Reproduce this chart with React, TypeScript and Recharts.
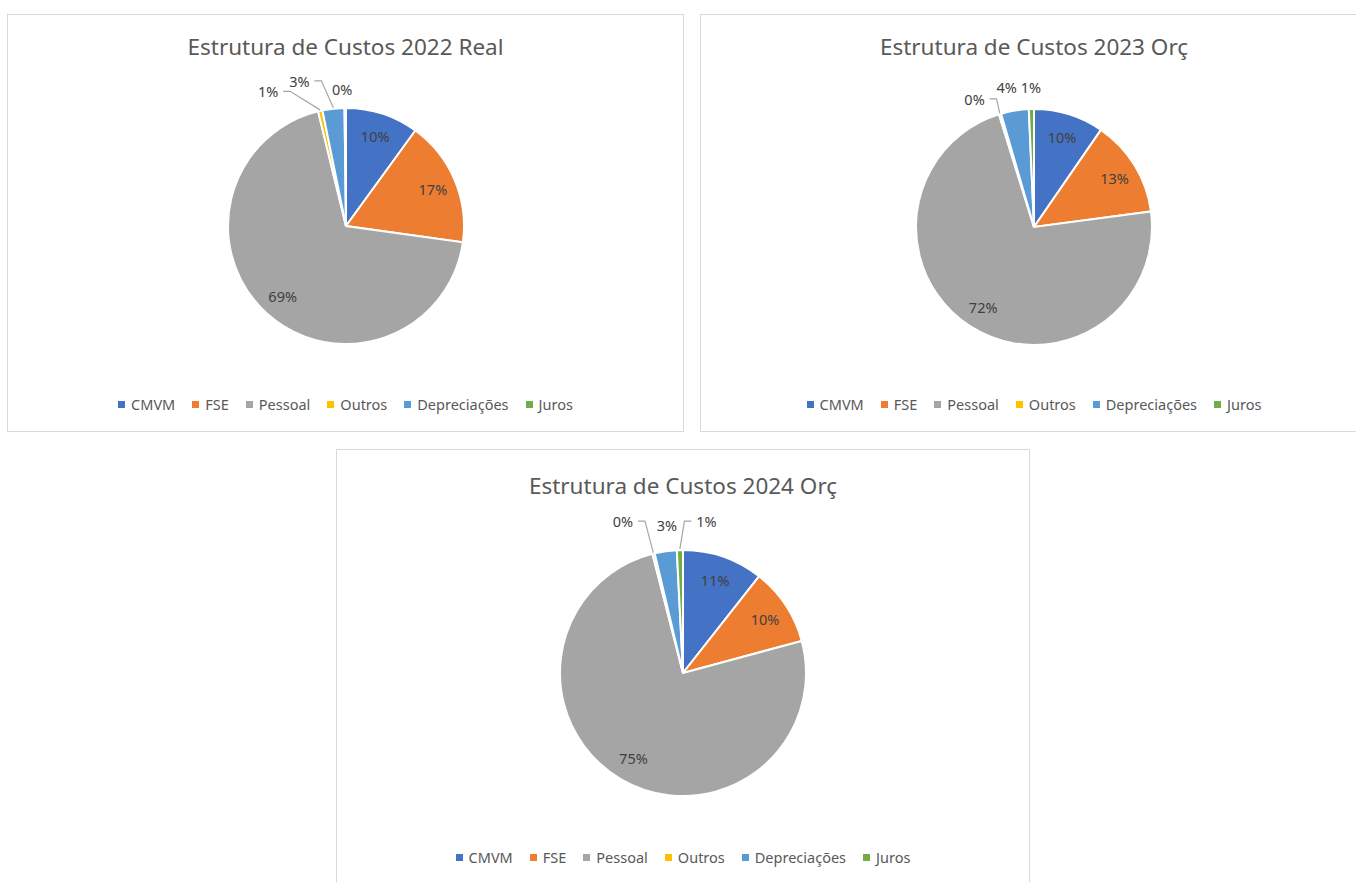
import React from "react";
import { PieChart, Pie, Cell, Legend } from "recharts";

const categories = ["CMVM", "FSE", "Pessoal", "Outros", "Depreciações", "Juros"];
const colors = ["#4472C4", "#ED7D31", "#A5A5A5", "#FFC000", "#5B9BD5", "#70AD47"];

const real2022 = [10.0, 17.2, 69.0, 0.6, 3.0, 0.2];
const orc2023 = [9.6, 13.3, 72.3, 0.3, 3.8, 0.7];
const orc2024 = [10.6, 10.2, 75.2, 0.3, 2.9, 0.8];

const titles = [
  "Estrutura de Custos 2022 Real",
  "Estrutura de Custos 2023 Orç",
  "Estrutura de Custos 2024 Orç",
];

const FONT = "'Noto Sans', 'Open Sans', sans-serif";
const RAD = Math.PI / 180;

type Nudge = Record<number, [number, number]>;

type Panel = {
  title: string;
  values: number[];
  left: number;
  top: number;
  width: number;
  height: number;
  cx: number;
  cy: number;
  r: number;
  titleY: number;
  legendY: number;
  nudges: Nudge;
};

const panels: Panel[] = [
  {
    title: titles[0], values: real2022,
    left: 7, top: 14, width: 677, height: 418,
    cx: 339, cy: 212, r: 118, titleY: 33, legendY: 390,
    nudges: { 3: [-48, -1], 4: [-32, -9], 5: [-3, 0] },
  },
  {
    title: titles[1], values: orc2023,
    left: 700, top: 14, width: 668, height: 418,
    cx: 334, cy: 213, r: 118, titleY: 33, legendY: 390,
    nudges: { 3: [-20, 3], 4: [-5, -5], 5: [0, -3] },
  },
  {
    title: titles[2], values: orc2024,
    left: 336, top: 449, width: 694, height: 436,
    cx: 347, cy: 224, r: 123, titleY: 37, legendY: 408,
    nudges: { 3: [-26, -14], 4: [4, -7], 5: [27, -10] },
  },
];

const polar = (cx: number, cy: number, r: number, angle: number) => ({
  x: cx + r * Math.cos(-angle * RAD),
  y: cy + r * Math.sin(-angle * RAD),
});

const makeLabel = (nudges: Nudge) => (props: any) => {
  const { cx, cy, midAngle, outerRadius, percent, index } = props;
  const txt = `${Math.round(percent * 100)}%`;
  const textProps = {
    fill: "#404040",
    fontSize: 14.5,
    fontFamily: FONT,
    textAnchor: "middle" as const,
    dominantBaseline: "central" as const,
  };
  if (percent >= 0.05) {
    const p = polar(cx, cy, outerRadius * 0.8, midAngle);
    return (
      <text key={`l${index}`} x={p.x} y={p.y} {...textProps}>
        {txt}
      </text>
    );
  }
  const base = polar(cx, cy, outerRadius + 19, midAngle);
  const [dx, dy] = nudges[index] ?? [0, 0];
  const x = base.x + dx;
  const y = base.y + dy;
  const edge = polar(cx, cy, outerRadius + 1, midAngle);
  const showLine = Math.hypot(dx, dy) > 12;
  const side = edge.x > x ? 1 : -1;
  const sx = x + side * 15;
  const mx = sx + side * 7;
  return (
    <g key={`l${index}`}>
      {showLine && (
        <polyline
          points={`${sx},${y} ${mx},${y} ${edge.x},${edge.y}`}
          fill="none"
          stroke="#A6A6A6"
          strokeWidth={1.2}
        />
      )}
      <text x={x} y={y} {...textProps}>
        {txt}
      </text>
    </g>
  );
};

const renderLegend = (props: any) => {
  const payload = [...(props.payload || [])].sort(
    (a: any, b: any) => categories.indexOf(a.value) - categories.indexOf(b.value)
  );
  return (
    <div
      style={{
        display: "flex",
        justifyContent: "center",
        alignItems: "center",
        fontFamily: FONT,
        fontSize: 14.5,
        color: "#595959",
        lineHeight: "18px",
      }}
    >
      {payload.map((entry: any, i: number) => (
        <span
          key={entry.value}
          style={{ display: "inline-flex", alignItems: "center", marginRight: i < payload.length - 1 ? 17 : 0 }}
        >
          <span
            style={{ width: 7, height: 7, background: entry.color, display: "inline-block", marginRight: 6 }}
          />
          {entry.value}
        </span>
      ))}
    </div>
  );
};

function CostPie({ p }: { p: Panel }) {
  const data = categories.map((name, i) => ({ name, value: p.values[i] }));
  return (
    <div
      style={{
        position: "absolute",
        left: p.left,
        top: p.top,
        width: p.width,
        height: p.height,
        border: "1px solid #D9D9D9",
        boxSizing: "border-box",
        background: "#fff",
      }}
    >
      <div
        style={{
          position: "absolute",
          left: 0,
          width: "100%",
          top: p.titleY - 16,
          textAlign: "center",
          fontFamily: FONT,
          fontSize: 22.5,
          lineHeight: "30px",
          color: "#595959",
        }}
      >
        {p.title}
      </div>
      <div style={{ position: "absolute", left: -1, top: -1 }}>
        <PieChart width={p.width} height={p.height} margin={{ top: 0, right: 0, bottom: 0, left: 0 }}>
          <Pie
            data={data}
            dataKey="value"
            nameKey="name"
            cx={p.cx}
            cy={p.cy}
            outerRadius={p.r}
            startAngle={90}
            endAngle={-270}
            stroke="#FFFFFF"
            strokeWidth={2}
            label={makeLabel(p.nudges)}
            labelLine={false}
            isAnimationActive={false}
          >
            {data.map((d, i) => (
              <Cell key={d.name} fill={colors[i]} />
            ))}
          </Pie>
          <Legend
            content={renderLegend}
            wrapperStyle={{ left: 0, width: p.width, top: p.legendY - 9, bottom: "auto" }}
          />
        </PieChart>
      </div>
    </div>
  );
}

export default function App() {
  return (
    <div
      style={{
        position: "absolute",
        left: 0,
        top: 0,
        width: 1356,
        height: 882,
        overflow: "hidden",
        background: "#fff",
      }}
    >
      {panels.map((p) => (
        <CostPie key={p.title} p={p} />
      ))}
    </div>
  );
}
